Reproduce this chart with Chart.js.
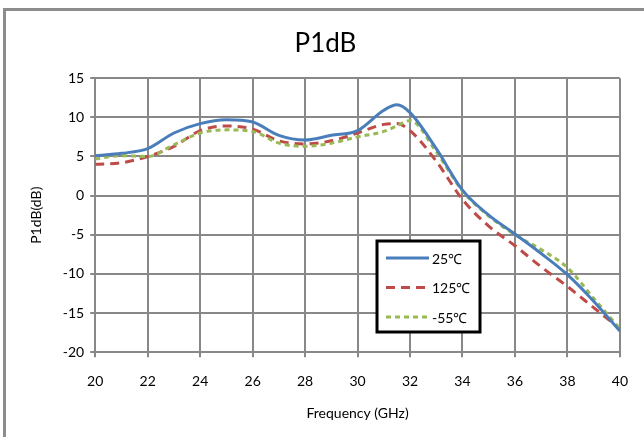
<!DOCTYPE html>
<html>
<head>
<meta charset="utf-8">
<script src="https://cdn.jsdelivr.net/npm/chart.js@4/dist/chart.umd.min.js"></script>
<style>
    html, body { margin: 0; padding: 0; background: #fff; }
    #wrap { position: relative; width: 644px; height: 437px; overflow: hidden; }
    #frame { position: absolute; left: 3px; top: 8px; width: 660px; height: 460px;
             border-left: 3px solid #8c8c8c; border-top: 3px solid #8c8c8c; }
    canvas { position: absolute; left: 0; top: 0; }
</style>
</head>
<body>
<div id="wrap">
    <div id="frame"></div>
    <canvas id="p1dbChart" width="644" height="437"></canvas>
</div>
<script>
// frequency points (GHz)
const freqs = [20, 21, 22, 23, 24, 25, 26, 27, 28, 29, 30, 31, 31.5, 32, 33, 34, 35, 36, 37, 38, 39, 40];
// P1dB values (dB)
const p25 = [5.1, 5.4, 6.0, 8.0, 9.2, 9.7, 9.4, 7.7, 7.1, 7.7, 8.3, 10.9, 11.6, 10.6, 6.0, 0.7, -2.5, -4.9, -7.4, -10.1, -13.5, -17.3];
const p125 = [4.0, 4.2, 5.0, 6.3, 8.3, 8.9, 8.5, 7.0, 6.6, 7.0, 8.0, 9.1, 9.2, 8.3, 4.4, -0.5, -3.9, -6.4, -9.1, -11.6, -14.3, -17.0];
const pm55 = [4.7, 5.1, 5.0, 6.5, 8.0, 8.4, 8.2, 6.7, 6.3, 6.7, 7.5, 8.2, 8.9, 9.6, 5.6, 0.6, -2.6, -5.0, -6.9, -9.2, -13.1, -17.0];
const seriesLabels = ['25\u2103', '125\u2103', '-55\u2103'];

function toPoints(ys) {
    return freqs.map(function (f, i) { return { x: f, y: ys[i] }; });
}

// legend box drawn inside the plot area, like the original
const boxLegend = {
    id: 'boxLegend',
    afterDraw: function (chart) {
        const ctx = chart.ctx;
        const x0 = 377, y0 = 241, w = 103, h = 91;
        ctx.save();
        ctx.fillStyle = '#fff';
        ctx.fillRect(x0, y0, w, h);
        ctx.lineWidth = 3;
        ctx.strokeStyle = '#000';
        ctx.strokeRect(x0, y0, w, h);
        chart.data.datasets.forEach(function (ds, i) {
            const y = y0 + 17 + i * 29.5;
            ctx.beginPath();
            ctx.setLineDash(ds.borderDash || []);
            ctx.strokeStyle = ds.borderColor;
            ctx.lineWidth = ds.borderWidth;
            ctx.moveTo(x0 + 9, y);
            ctx.lineTo(x0 + 52, y);
            ctx.stroke();
            ctx.setLineDash([]);
            ctx.fillStyle = '#000';
            ctx.font = '14px Lato, "Open Sans", sans-serif';
            ctx.textBaseline = 'middle';
            ctx.fillText(ds.label, x0 + 55, y + 1);
        });
        ctx.restore();
    }
};

const ctx = document.getElementById('p1dbChart').getContext('2d');
new Chart(ctx, {
    type: 'line',
    data: {
        datasets: [
            {
                label: seriesLabels[0],
                data: toPoints(p25),
                borderColor: '#4a7ebb',
                borderWidth: 3,
                order: 0
            },
            {
                label: seriesLabels[1],
                data: toPoints(p125),
                borderColor: '#be4b48',
                borderWidth: 3,
                borderDash: [9, 6],
                order: 2
            },
            {
                label: seriesLabels[2],
                data: toPoints(pm55),
                borderColor: '#98b954',
                borderWidth: 3,
                borderDash: [5, 4],
                order: 1
            }
        ]
    },
    options: {
        responsive: false,
        animation: false,
        elements: {
            point: { radius: 0 },
            line: { tension: 0.4, cubicInterpolationMode: 'monotone', fill: false }
        },
        layout: { padding: { left: 24, right: 17, top: 28, bottom: 13 } },
        plugins: {
            legend: { display: false },
            tooltip: { enabled: false },
            title: {
                display: true,
                text: 'P1dB',
                color: '#000',
                font: { family: 'Lato, "Open Sans", sans-serif', size: 26, weight: 'normal' },
                padding: { top: 0, bottom: 19 }
            }
        },
        scales: {
            x: {
                type: 'linear',
                min: 20,
                max: 40,
                ticks: {
                    stepSize: 2,
                    color: '#000',
                    padding: 16,
                    font: { family: 'Lato, "Open Sans", sans-serif', size: 14 }
                },
                grid: { color: '#888', lineWidth: 2, tickLength: 5 },
                border: { color: '#888', width: 2 },
                title: {
                    display: true,
                    text: 'Frequency (GHz)',
                    color: '#000',
                    padding: { top: 0 },
                    font: { family: 'Lato, "Open Sans", sans-serif', size: 14, lineHeight: 1 }
                }
            },
            y: {
                min: -20,
                max: 15,
                ticks: {
                    stepSize: 5,
                    color: '#000',
                    padding: 6,
                    font: { family: 'Lato, "Open Sans", sans-serif', size: 14 }
                },
                grid: { color: '#888', lineWidth: 2, tickLength: 5 },
                border: { color: '#888', width: 2 },
                title: {
                    display: true,
                    text: 'P1dB(dB)',
                    color: '#000',
                    padding: { bottom: 12 },
                    font: { family: 'Lato, "Open Sans", sans-serif', size: 14 }
                }
            }
        }
    },
    plugins: [boxLegend]
});
</script>
</body>
</html>
